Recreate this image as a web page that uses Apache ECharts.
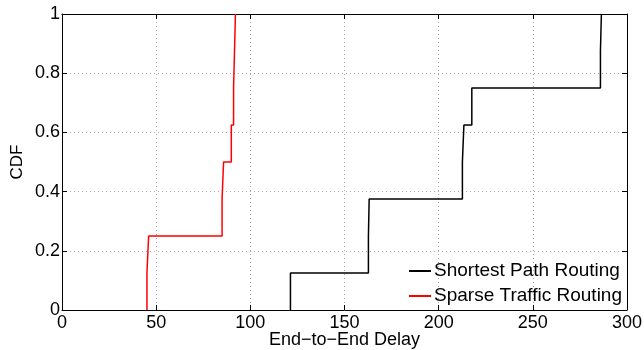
<!DOCTYPE html>
<html><head><meta charset="utf-8">
<script src="https://cdn.jsdelivr.net/npm/echarts@6/dist/echarts.min.js"></script>
<style>html,body{margin:0;padding:0;background:#fff}#c{width:644px;height:350px}</style>
</head><body><div id="c"></div>
<script>
var seriesNames = ['Shortest Path Routing', 'Sparse Traffic Routing'];
var shortestDelay = [121.3, 162.7, 163.1, 212.6, 213.4, 217.6, 285.9, 286.4];
var sparseDelay = [45.1, 46.0, 85.0, 85.8, 89.9, 91.1, 91.6, 92.1];
var cdfLevels = [0.125, 0.25, 0.375, 0.5, 0.625, 0.75, 0.875, 1];
var xTicks = [0, 50, 100, 150, 200, 250, 300];
var yTicks = [0, 0.2, 0.4, 0.6, 0.8, 1];

function stepData(xs) {
  var d = [[xs[0], 0]];
  for (var i = 0; i < xs.length; i++) d.push([xs[i], cdfLevels[i]]);
  return d;
}
var font = 'Liberation Sans, Arial, Helvetica, sans-serif';
var chart = echarts.init(document.getElementById('c'), null, {renderer: 'canvas'});
var gridLine = {show: true, lineStyle: {color: '#aaa', type: [1, 3], width: 1}};
chart.setOption({
  animation: false,
  grid: {left: 62, right: 17, top: 14, bottom: 40, containLabel: false, outerBoundsMode: 'none'},
  legend: {
    orient: 'vertical', right: 22, bottom: 44, itemGap: 5, padding: 0,
    itemWidth: 22, itemHeight: 2,
    textStyle: {fontFamily: font, fontSize: 19, lineHeight: 20, color: '#000', padding: [0, 0, 0, -2]},
    data: [{name: seriesNames[0], icon: 'rect'}, {name: seriesNames[1], icon: 'rect'}]
  },
  xAxis: [{
    type: 'value', min: 0, max: 300, interval: 50,
    axisLine: {onZero: false, lineStyle: {color: '#000', width: 1}},
    axisTick: {inside: true, length: 5, lineStyle: {color: '#000'}},
    axisLabel: {color: '#000', fontFamily: font, fontSize: 18, margin: 4,
      formatter: function (v) { return xTicks.indexOf(v) >= 0 ? String(v) : ''; }},
    splitLine: gridLine,
    name: 'End\u2212to\u2212End Delay', nameLocation: 'middle', nameGap: 21, nameMoveOverlap: false,
    nameTextStyle: {color: '#000', fontFamily: font, fontSize: 18}
  }, {
    type: 'value', min: 0, max: 300, interval: 50, position: 'top',
    axisLine: {show: true, onZero: false, lineStyle: {color: '#000', width: 1}},
    axisTick: {show: true, inside: true, length: 5, lineStyle: {color: '#000'}},
    axisLabel: {show: false}, splitLine: {show: false}
  }],
  yAxis: [{
    type: 'value', min: 0, max: 1, interval: 0.2,
    axisLine: {show: true, onZero: false, lineStyle: {color: '#000', width: 1}},
    axisTick: {show: true, inside: true, length: 5, lineStyle: {color: '#000'}},
    axisLabel: {color: '#000', fontFamily: font, fontSize: 18, margin: 2,
      formatter: function (v) { return String(Math.round(v * 10) / 10); }},
    splitLine: gridLine,
    name: 'CDF', nameLocation: 'middle', nameGap: 36, nameRotate: 90, nameMoveOverlap: false,
    nameTextStyle: {color: '#000', fontFamily: font, fontSize: 17}
  }, {
    type: 'value', min: 0, max: 1, interval: 0.2, position: 'right',
    axisLine: {show: true, onZero: false, lineStyle: {color: '#000', width: 1}},
    axisTick: {show: true, inside: true, length: 5, lineStyle: {color: '#000'}},
    axisLabel: {show: false}, splitLine: {show: false}
  }],
  series: [{
    name: seriesNames[0], type: 'line', step: 'end', data: stepData(shortestDelay),
    showSymbol: false, symbol: 'none', color: '#000', lineStyle: {color: '#000', width: 1.5}
  }, {
    name: seriesNames[1], type: 'line', step: 'end', data: stepData(sparseDelay),
    showSymbol: false, symbol: 'none', color: '#ff0000', lineStyle: {color: '#ff0000', width: 1.5}
  }]
});
</script></body></html>
